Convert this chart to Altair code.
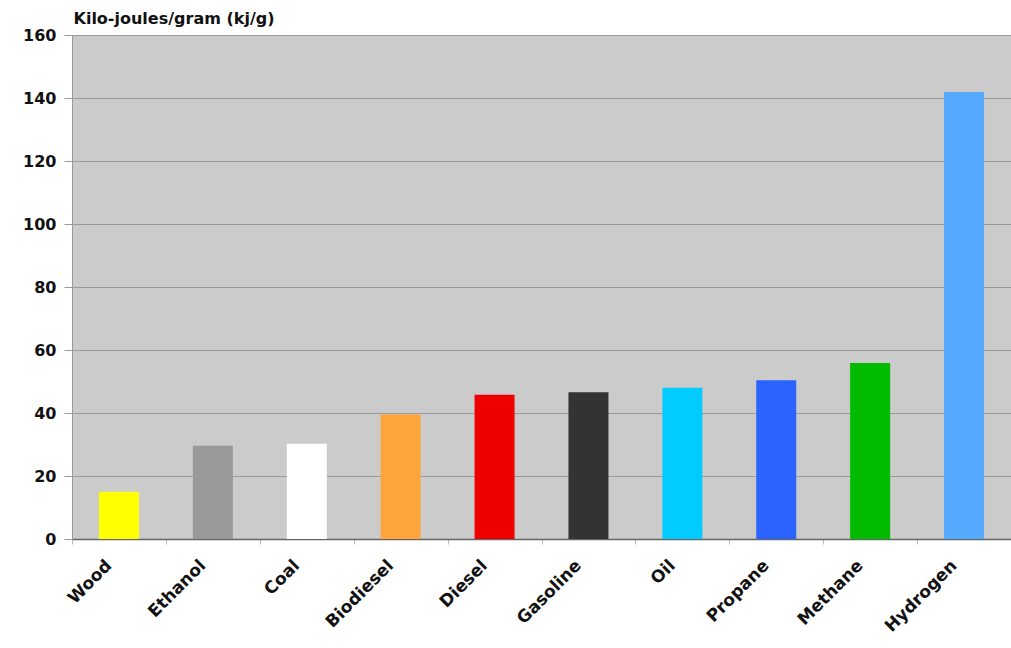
import altair as alt
import pandas as pd

fuels = ["Wood", "Ethanol", "Coal", "Biodiesel", "Diesel", "Gasoline", "Oil", "Propane", "Methane", "Hydrogen"]
energy = [15.0, 29.6, 30.2, 39.5, 45.8, 46.6, 48.0, 50.4, 55.9, 141.9]
colors = ["#ffff00", "#999999", "#ffffff", "#ffa53c", "#ee0000", "#333333", "#00ccff", "#2b63ff", "#00bb00", "#55aaff"]
y_ticks = [0, 20, 40, 60, 80, 100, 120, 140, 160]

df = pd.DataFrame({"fuel": fuels, "energy": energy, "color": colors})

FONT = "DejaVu Sans"

chart = alt.Chart(df).mark_bar(size=40).encode(
    x=alt.X(
        "fuel:N",
        sort=fuels,
        scale=alt.Scale(paddingInner=0, paddingOuter=0),
        axis=alt.Axis(
            title=None,
            labelAngle=-45,
            labelAlign="right",
            labelBaseline="top",
            labelPadding=13,
            labelOffset=-16,
            labelFont=FONT,
            labelFontWeight="bold",
            labelFontSize=17,
            labelColor="#111111",
            tickBand="extent",
            tickSize=5,
            tickColor="#bbbbbb",
            domainColor="#666666",
            domainWidth=1.5,
        ),
    ),
    y=alt.Y(
        "energy:Q",
        scale=alt.Scale(domain=[0, 160], nice=False),
        axis=alt.Axis(
            values=y_ticks,
            title="Kilo-joules/gram (kj/g)",
            titleAngle=0,
            titleX=1,
            titleY=-9,
            titleAlign="left",
            titleBaseline="bottom",
            titleFont=FONT,
            titleFontWeight="bold",
            titleFontSize=16,
            titleColor="#111111",
            labelFont=FONT,
            labelFontWeight="bold",
            labelFontSize=16,
            labelColor="#111111",
            labelPadding=8,
            tickSize=8,
            tickColor="#999999",
            domainColor="#999999",
            gridColor="#9a9a9a",
            gridWidth=1,
        ),
    ),
    color=alt.Color("color:N", scale=None, legend=None),
).properties(
    width=939,
    height=504,
    background="white",
    padding={"left": 72, "top": 35, "right": 0, "bottom": 109},
    autosize="none",
).configure_view(
    fill="#cbcbcb",
    stroke="#8c8c8c",
)

chart.save("out.html", embed_options={"renderer": "svg", "actions": False})
